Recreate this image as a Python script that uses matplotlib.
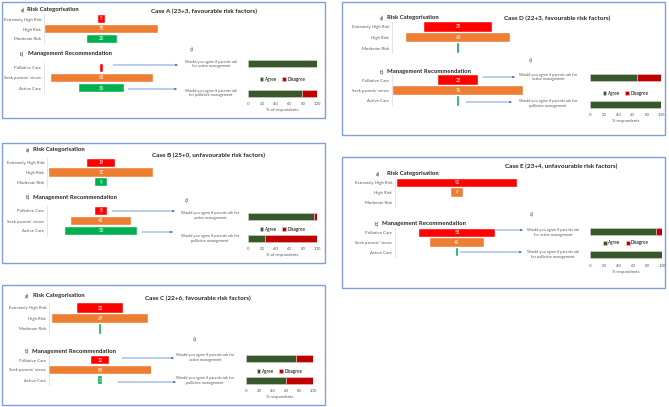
import matplotlib
matplotlib.use('Agg')
import matplotlib.pyplot as plt
from matplotlib.patches import Rectangle

plt.rcParams['font.family'] = ['Lato', 'DejaVu Sans']

W, H = 669, 407

# ---- data ----
cases = ['A', 'B', 'C', 'D', 'E']
titles = ['Case A (23+3, favourable risk factors)',
          'Case B (25+0, unfavourable risk factors)',
          'Case C (22+6, favourable risk factors)',
          'Case D (22+3, favourable risk factors)',
          'Case E (23+4, unfavourable risk factors)']
risk_labels = ['Extremely High Risk', 'High Risk', 'Moderate Risk']
mgmt_labels = ['Palliative Care', "Seek parents' views", 'Active Care']

risk_a = [5, 75, 20]
risk_b = [19, 72, 9]
risk_c = [32, 67, 1]
risk_d = [39, 60, 1]
risk_e = [91, 9, 0]

mgmt_a = [2, 68, 30]
mgmt_b = [8, 42, 50]
mgmt_c = [12, 85, 3]
mgmt_d = [23, 76, 1]
mgmt_e = [58, 41, 1]

# rows: [if parents ask for active, if parents ask for palliative]
agree_a, disagree_a = [100, 78], [0, 22]
agree_b, disagree_b = [95, 25], [5, 75]
agree_c, disagree_c = [74, 60], [26, 40]
agree_d, disagree_d = [66, 100], [34, 0]
agree_e, disagree_e = [91, 100], [9, 0]

q_short = ['Would you agree if parents ask\nfor active management',
           'Would you agree if parents ask\nfor palliative management']
q_long = ['Would you agree if parents ask for\nactive management',
          'Would you agree if parents ask for\npalliative management']
questions = [q_short, q_long, q_long, q_long, q_short]
xlabels = ['% of respondents', '% of respondents', '% respondents',
           '% respondents', '% respondents']

risks = [risk_a, risk_b, risk_c, risk_d, risk_e]
mgmts = [mgmt_a, mgmt_b, mgmt_c, mgmt_d, mgmt_e]
agrees = [agree_a, agree_b, agree_c, agree_d, agree_e]
disagrees = [disagree_a, disagree_b, disagree_c, disagree_d, disagree_e]

# ---- layout (pixels) ----
layouts = [
    dict(box=(2, 2, 325, 118), title=(204, 11), ha=(21, 27, 10), hb=(20, 28, 54),
         label_x=41, center=101.5, scale=1.5, risk_y=(19, 10), mgmt_y=(68, 10),
         c=(190, 49), q_x=211, q_y=(64, 93), arrows=((113, 178, 65), (128, 177, 89)),
         stack_x=(248, 317), stack_y=(63, 93), legend_y=79),
    dict(box=(2, 143, 325, 263), title=(209, 155), ha=(26, 33, 150), hb=(26, 33, 197),
         label_x=44, center=101, scale=1.44, risk_y=(163, 9.5), mgmt_y=(211, 10),
         c=(185, 200), q_x=210, q_y=(215.5, 238.5), arrows=((112, 175, 211), (142, 173, 232)),
         stack_x=(248, 317), stack_y=(216, 238), legend_y=229),
    dict(box=(2, 285, 325, 405), title=(198, 298), ha=(25, 33, 296), hb=(25, 32, 351),
         label_x=46, center=100, scale=1.43, risk_y=(308, 10.5), mgmt_y=(360, 10),
         c=(193, 339), q_x=205, q_y=(357.5, 380.5), arrows=((122, 174, 358), (118, 176, 382)),
         stack_x=(246, 313), stack_y=(358, 380), legend_y=371),
    dict(box=(342, 2, 665, 135), title=(557, 18), ha=(380, 387, 18), hb=(380, 387, 72),
         label_x=389, center=458, scale=1.72, risk_y=(27, 10.5), mgmt_y=(80, 10.5),
         c=(529, 60), q_x=548, q_y=(77, 103.5), arrows=((483, 515, 77), (466, 512, 102)),
         stack_x=(590, 661), stack_y=(77, 104), legend_y=93),
    dict(box=(342, 157, 665, 288), title=(561, 166), ha=(376, 387, 174), hb=(375, 382, 224),
         label_x=392, center=457, scale=1.32, risk_y=(183, 9.5), mgmt_y=(233, 9.5),
         c=(530, 214), q_x=553, q_y=(232.5, 254.5), arrows=((496, 523, 230), (460, 522, 252)),
         stack_x=(590, 662), stack_y=(232, 255), legend_y=243),
]

bar_colors = ['#ff0000', '#ed7d31', '#00b050']
agree_color = '#38572a'
disagree_color = '#c00000'
grey = '#595959'


def rect(x0, y0, x1, y1):
    return [x0 / W, 1 - y1 / H, (x1 - x0) / W, (y1 - y0) / H]


fig = plt.figure(figsize=(W / 100, H / 100), dpi=100)
over = fig.add_axes([0, 0, 1, 1], zorder=0)
over.set_xlim(0, W)
over.set_ylim(H, 0)
over.axis('off')


def funnel(L, y0, step, values, labels):
    left = L['label_x'] + 3
    right = 2 * L['center'] - left
    c, s = L['center'], L['scale']
    ax = fig.add_axes(rect(left, y0 - step / 2, right, y0 + 2.5 * step), zorder=2)
    ax.set_xlim((left - c) / s, (right - c) / s)
    ax.set_ylim(2.5, -0.5)
    ax.barh(range(3), values, left=[-v / 2 for v in values], height=0.88,
            color=bar_colors, edgecolor='white', linewidth=0.3)
    for i, v in enumerate(values):
        if v >= 3:
            ax.text(0, i, str(v), ha='center', va='center', color='white', fontsize=3.3)
    ax.set_yticks(range(3))
    ax.set_yticklabels(labels, fontsize=3.1, color=grey)
    ax.tick_params(axis='y', length=0, pad=2)
    ax.set_xticks([])
    for sp in ['top', 'right', 'bottom']:
        ax.spines[sp].set_visible(False)
    ax.spines['left'].set_color('#d9d9d9')
    ax.spines['left'].set_linewidth(0.5)
    ax.patch.set_visible(False)


def stacked(L, agree, disagree, xlabel):
    x0, x1 = L['stack_x']
    y1, y2 = L['stack_y']
    unit = y2 - y1
    pad = 5
    ax = fig.add_axes(rect(x0, y1 - pad, x1, y2 + pad), zorder=2)
    ax.set_xlim(0, 100)
    ax.set_ylim(1 + pad / unit, -pad / unit)
    hb = 7 / unit
    ax.barh([0, 1], agree, height=hb, color=agree_color, label='Agree',
            edgecolor='#d0d8c8', linewidth=0.4)
    ax.barh([0, 1], disagree, left=agree, height=hb, color=disagree_color, label='Disagree',
            edgecolor='#e8c8c8', linewidth=0.4)
    ax.set_yticks([])
    ax.set_xticks(range(0, 101, 20))
    ax.tick_params(axis='x', length=0, labelsize=3.1, colors=grey, pad=3)
    ax.set_xlabel(xlabel, fontsize=3.1, color=grey, labelpad=1.5)
    for sp in ax.spines.values():
        sp.set_visible(False)
    ax.patch.set_visible(False)
    ly = (y2 + pad - L['legend_y']) / (unit + 2 * pad)
    ax.legend(loc='center', bbox_to_anchor=(0.5, ly), ncol=2, frameon=False,
              fontsize=3.3, handlelength=0.8, handleheight=0.8, columnspacing=1.2,
              handletextpad=0.3, borderpad=0)


for k in range(len(cases)):
    L = layouts[k]
    bx0, by0, bx1, by1 = L['box']
    over.add_patch(Rectangle((bx0, by0), bx1 - bx0, by1 - by0, fill=False,
                             ec='#7f9fd6', lw=1.0))
    over.text(L['title'][0], L['title'][1], titles[k], ha='center', va='center',
              fontsize=4.6, fontweight='bold', color='#262626')
    over.text(L['ha'][0], L['ha'][2], 'a)', ha='left', va='center', fontsize=3.6, color='#262626')
    over.text(L['ha'][1], L['ha'][2], 'Risk Categorisation', ha='left', va='center',
              fontsize=4.3, fontweight='bold', color='#262626')
    over.text(L['hb'][0], L['hb'][2], 'b)', ha='left', va='center', fontsize=3.6, color='#262626')
    over.text(L['hb'][1], L['hb'][2], 'Management Recommendation', ha='left', va='center',
              fontsize=4.3, fontweight='bold', color='#262626')
    over.text(L['c'][0], L['c'][1], 'c)', ha='left', va='center', fontsize=3.6, color='#404040')
    for q, qy in zip(questions[k], L['q_y']):
        over.text(L['q_x'], qy, q, ha='center', va='center', fontsize=2.8,
                  color=grey, linespacing=1.3)
    for xa, xb, ya in L['arrows']:
        over.annotate('', xy=(xb, ya), xytext=(xa, ya),
                      arrowprops=dict(arrowstyle='-|>', color='#4472c4', lw=0.5,
                                      mutation_scale=3, shrinkA=0, shrinkB=0))
    funnel(L, L['risk_y'][0], L['risk_y'][1], risks[k], risk_labels)
    funnel(L, L['mgmt_y'][0], L['mgmt_y'][1], mgmts[k], mgmt_labels)
    stacked(L, agrees[k], disagrees[k], xlabels[k])

fig.savefig('out.png', dpi=100)
